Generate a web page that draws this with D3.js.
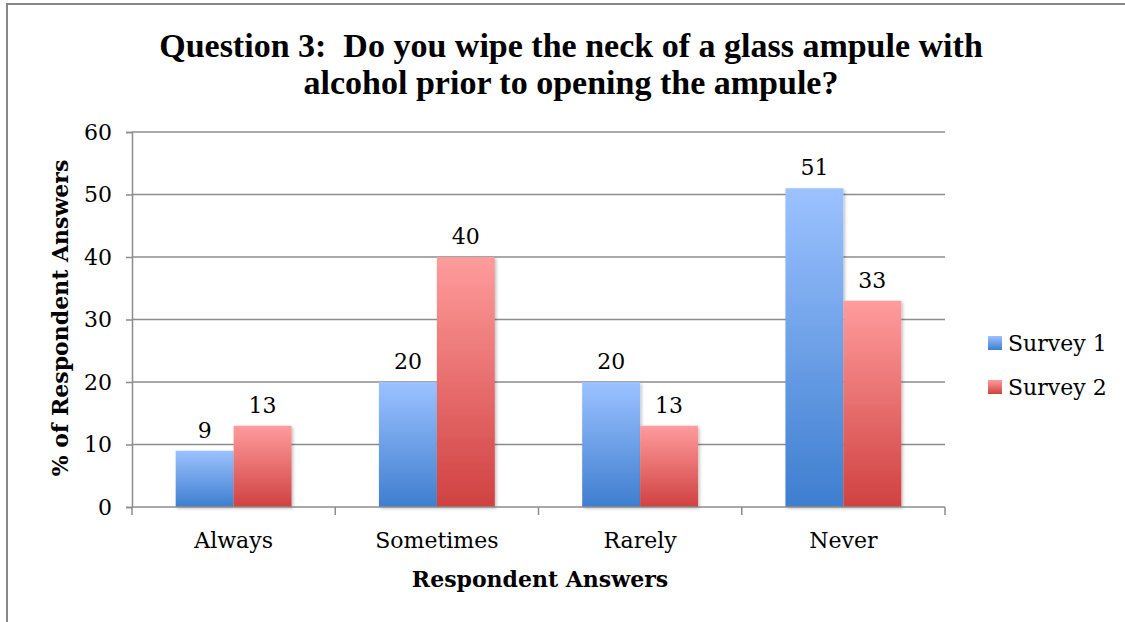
<!DOCTYPE html>
<html><head><meta charset="utf-8">
<script src="https://cdn.jsdelivr.net/npm/d3@7"></script>
<style>body{margin:0;background:#fff}svg{display:block}text{fill:#000}</style>
</head><body><svg id="c" width="1125" height="622"></svg>
<script>
const categories = ["Always","Sometimes","Rarely","Never"];
const seriesNames = ["Survey 1","Survey 2"];
const survey1 = [9,20,20,51];
const survey2 = [13,40,13,33];
const yTicks = [0,10,20,30,40,50,60];
const titleLines = ["Question 3:  Do you wipe the neck of a glass ampule with","alcohol prior to opening the ampule?"];
const yTitle = "% of Respondent Answers";
const xTitle = "Respondent Answers";

const SERIF = '"DejaVu Serif", serif';
const svg = d3.select("#c");
const defs = svg.append("defs");
const grads = [["#9cc2ff","#3e7ecf"],["#ff9c9c","#d04141"]];
grads.forEach((g,i)=>{
  const lg = defs.append("linearGradient").attr("id","g"+i).attr("x1",0).attr("y1",0).attr("x2",0).attr("y2",1);
  lg.append("stop").attr("offset","0").attr("stop-color",g[0]);
  lg.append("stop").attr("offset","1").attr("stop-color",g[1]);
});
const f = defs.append("filter").attr("id","sh").attr("x","-10%").attr("y","-10%").attr("width","130%").attr("height","130%");
f.append("feDropShadow").attr("dx",1.5).attr("dy",1.5).attr("stdDeviation",1.5).attr("flood-color","#000").attr("flood-opacity",0.25);

// frame
svg.append("line").attr("x1",7).attr("x2",7).attr("y1",3).attr("y2",622).attr("stroke","#888").attr("stroke-width",2);
svg.append("line").attr("x1",6).attr("x2",1125).attr("y1",4).attr("y2",4).attr("stroke","#888").attr("stroke-width",2);

const L=132,R=945,T=132,B=507;
const y = d3.scaleLinear().domain([0,60]).range([B,T]);
const x0 = d3.scaleBand().domain(categories).range([L,R]).paddingInner(0.43).paddingOuter(0.215);
const x1 = d3.scaleBand().domain(seriesNames).range([0,x0.bandwidth()]);
const step = x0.step();

// gridlines
svg.append("g").selectAll("line").data(yTicks.filter(d=>d>0)).join("line")
  .attr("x1",L).attr("x2",R).attr("y1",d=>y(d)).attr("y2",d=>y(d))
  .attr("stroke","#8c8c8c").attr("stroke-width",1.5);

// y axis
const ya = svg.append("g").attr("transform",`translate(${L},0)`).call(d3.axisLeft(y).tickValues(yTicks).tickSize(6).tickPadding(14));
ya.select(".domain").attr("stroke","#8c8c8c").attr("stroke-width",1.5);
ya.selectAll(".tick line").attr("stroke","#8c8c8c").attr("stroke-width",1.5);
ya.selectAll(".tick text").style("font-size","22px").style("font-family",SERIF).style("fill","#000");

// bars
const data = categories.map((c,i)=>({c, vals:[survey1[i],survey2[i]]}));
const gb = svg.append("g");
data.forEach(d=>{
  d.vals.forEach((v,j)=>{
    gb.append("rect").attr("x",x0(d.c)+x1(seriesNames[j])).attr("y",y(v))
      .attr("width",x1.bandwidth()).attr("height",y(0)-y(v)).attr("fill",`url(#g${j})`).attr("filter","url(#sh)");
    gb.append("text").attr("x",x0(d.c)+x1(seriesNames[j])+x1.bandwidth()/2).attr("y",y(v)-13)
      .attr("text-anchor","middle").style("font-family",SERIF).style("font-size","22px").text(v);
  });
});

// x axis
const xa = svg.append("g").attr("transform",`translate(0,${B})`);
xa.append("line").attr("x1",L).attr("x2",R).attr("stroke","#8c8c8c").attr("stroke-width",1.5);
xa.selectAll("line.t").data(d3.range(categories.length+1)).join("line").attr("class","t")
  .attr("x1",i=>L+i*step).attr("x2",i=>L+i*step).attr("y1",0).attr("y2",8).attr("stroke","#8c8c8c").attr("stroke-width",1.5);
xa.selectAll("text").data(categories).join("text")
  .attr("x",d=>x0(d)+x0.bandwidth()/2).attr("y",41).attr("text-anchor","middle")
  .style("font-family",SERIF).style("font-size","22px").text(d=>d);

// titles
svg.selectAll("text.title").data(titleLines).join("text").attr("class","title")
  .attr("x",571).attr("y",(d,i)=>57+i*37).attr("text-anchor","middle")
  .style("font-family",'"Liberation Serif", serif').style("font-weight","bold").style("font-size","34px")
  .style("white-space","pre").attr("xml:space","preserve").text(d=>d);
svg.append("text").attr("x",540).attr("y",587).attr("text-anchor","middle")
  .style("font-family",SERIF).style("font-weight","bold").style("font-size","22px").text(xTitle);
svg.append("text").attr("transform","translate(68,318) rotate(-90)").attr("text-anchor","middle")
  .style("font-family",SERIF).style("font-weight","bold").style("font-size","22px").text(yTitle);

// legend
const lg = svg.append("g");
seriesNames.forEach((s,i)=>{
  lg.append("rect").attr("x",988).attr("y",336+i*44).attr("width",14).attr("height",14).attr("fill",`url(#g${i})`);
  lg.append("text").attr("x",1008).attr("y",351+i*44).style("font-family",SERIF).style("font-size","22px").text(s);
});
</script></body></html>
